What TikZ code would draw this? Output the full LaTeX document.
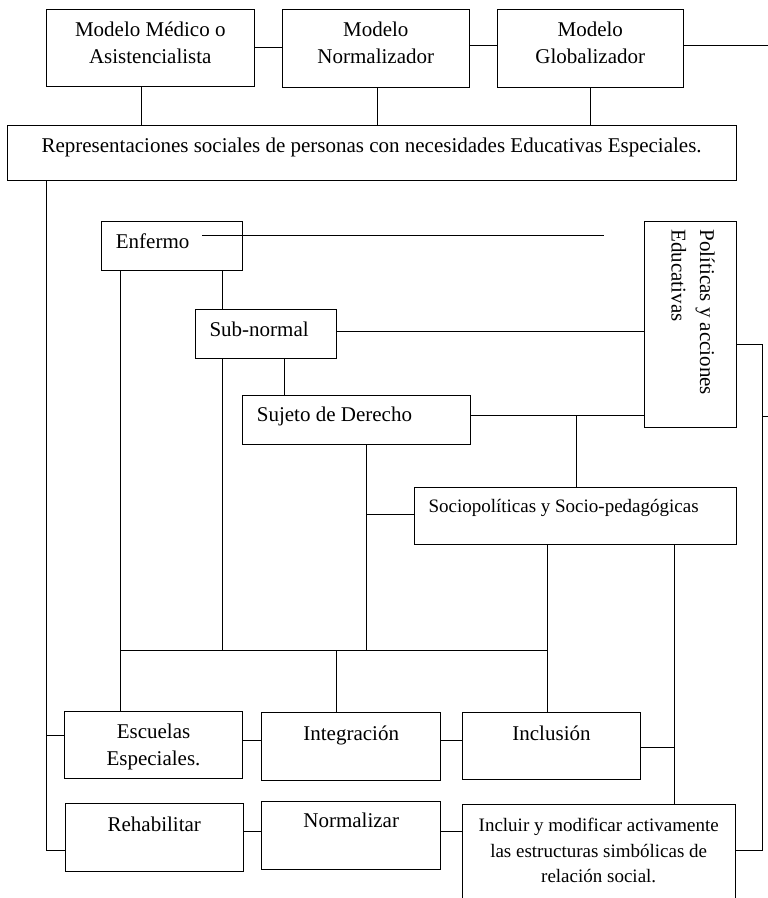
\documentclass[tikz,border=0pt]{standalone}
\usepackage{fontspec}
\setmainfont{Liberation Serif}
\begin{document}
\begin{tikzpicture}[x=1pt,y=-1pt,
  box/.style={draw=black,line width=1pt,inner sep=0pt,outer sep=0pt,anchor=north west},
  link/.style={draw=black,line width=1pt},
  txt/.style={inner sep=0pt,anchor=base,font=\fontsize{21}{27}\selectfont},
  txtl/.style={txt,anchor=base west},
  small/.style={inner sep=0pt,anchor=base,font=\fontsize{19}{24}\selectfont},
  vtxt/.style={txt,anchor=base west,rotate=-90}]
\useasboundingbox (0,0) rectangle (768,898);

% ---- boxes ----
\node[box,minimum width=207.3pt,minimum height=77.4pt] (b1) at (46.7,9.3) {};
\node[box,minimum width=186.3pt,minimum height=78pt] (b2) at (282.7,9.3) {};
\node[box,minimum width=186pt,minimum height=78pt] (b3) at (497.3,9.3) {};
\node[box,minimum width=728.7pt,minimum height=55pt] (rep) at (7.3,125.7) {};
\node[box,minimum width=141.7pt,minimum height=49pt] (enf) at (101,221.7) {};
\node[box,minimum width=92pt,minimum height=206pt] (pol) at (644,221.7) {};
\node[box,minimum width=141.7pt,minimum height=49pt] (sub) at (195,309.3) {};
\node[box,minimum width=228.4pt,minimum height=48.3pt] (suj) at (242.3,395.7) {};
\node[box,minimum width=322.7pt,minimum height=57pt] (soc) at (414,487.3) {};
\node[box,minimum width=178.4pt,minimum height=67.3pt] (esc) at (64.3,711) {};
\node[box,minimum width=179pt,minimum height=67.7pt] (int) at (261.7,712.3) {};
\node[box,minimum width=178.4pt,minimum height=67pt] (inc) at (462.3,712.3) {};
\node[box,minimum width=178pt,minimum height=67.3pt] (reh) at (65.3,803.7) {};
\node[box,minimum width=179pt,minimum height=67.3pt] (nor) at (261.7,801.7) {};
\node[box,minimum width=272.7pt,minimum height=112pt] (inm) at (462.3,804) {};

% ---- texts ----
\node[txt] (t1a) at (150.3,36) {Modelo Médico o};
\node[txt] (t1b) at (150.3,63.3) {Asistencialista};
\node[txt] (t2a) at (375.8,36) {Modelo};
\node[txt] (t2b) at (375.8,63.3) {Normalizador};
\node[txt] (t3a) at (590.3,36) {Modelo};
\node[txt] (t3b) at (590.3,63.3) {Globalizador};
\node[txt] (trep) at (371.6,152.7) {Representaciones sociales de personas con necesidades Educativas Especiales.};
\node[txtl] (tenf) at (115.7,248.3) {Enfermo};
\node[txtl] (tsub) at (209.3,336) {Sub-normal};
\node[txtl] (tsuj) at (256.7,421.7) {Sujeto de Derecho};
\node[small,anchor=base west] (tsoc) at (428.3,512.7) {Sociopolíticas y Socio-pedagógicas};
\node[vtxt] (tpola) at (700,229.3) {Políticas y acciones};
\node[vtxt] (tpolb) at (671.7,229.3) {Educativas};
\node[txt] (tesca) at (153.5,738.3) {Escuelas};
\node[txt] (tescb) at (153.5,765) {Especiales.};
\node[txt] (tint) at (351.2,740) {Integración};
\node[txt] (tinc) at (551.5,740) {Inclusión};
\node[txt] (treh) at (154.3,831) {Rehabilitar};
\node[txt] (tnor) at (351.2,827.3) {Normalizar};
\node[small] (tinma) at (598.7,831.7) {Incluir y modificar activamente};
\node[small] (tinmb) at (598.7,857) {las estructuras simbólicas de};
\node[small] (tinmc) at (598.7,882.5) {relación social.};

% ---- junction points ----
\coordinate (edgeA) at (768,45);
\coordinate (trunkE) at (46,735);
\coordinate (enfA) at (202.3,235.3);
\coordinate (enfB) at (604,235.3);
\coordinate (busL) at (120,650.7);
\coordinate (busR) at (547.7,650.7);
\coordinate (busS) at (222.3,650.7);
\coordinate (busD) at (366.7,650.7);
\coordinate (busI) at (336,650.7);
\coordinate (sujT) at (576,415.5);
\coordinate (socT) at (366.7,514.3);
\coordinate (incT) at (674,747.3);
\coordinate (rgtB) at (762.3,850);
\coordinate (rgtS) at (762.3,416);
\coordinate (edgeB) at (768,416);

% ---- connectors: top row ----
\draw[link] (b1.east |- 0,47.3) -- (b2.west |- 0,47.3);
\draw[link] (b2.east |- edgeA) -- (b3.west |- edgeA);
\draw[link] (b3.east |- edgeA) -- (edgeA);
\draw[link] (b1.south -| 141,0) -- (rep.north -| 141,0);
\draw[link] (b2.south -| 377.7,0) -- (rep.north -| 377.7,0);
\draw[link] (b3.south -| 590.7,0) -- (rep.north -| 590.7,0);

% ---- left trunk ----
\draw[link] (rep.south -| trunkE) |- (reh.west |- 0,850);
\draw[link] (trunkE) -- (esc.west |- trunkE);

% ---- representation chain ----
\draw[link] (enfA) -- (enfB);
\draw[link] (enf.south -| busL) -- (esc.north -| busL);
\draw[link] (enf.south -| busS) -- (sub.north -| busS);
\draw[link] (sub.south -| busS) -- (busS);
\draw[link] (sub.east |- 0,331.7) -- (pol.west |- 0,331.7);
\draw[link] (sub.south -| 284.3,0) -- (suj.north -| 284.3,0);
\draw[link] (suj.east |- sujT) -- (pol.west |- sujT);
\draw[link] (sujT) -- (soc.north -| sujT);
\draw[link] (suj.south -| busD) -- (busD);
\draw[link] (socT) -- (soc.west |- socT);
\draw[link] (busL) -- (busR);
\draw[link] (soc.south -| busR) -- (inc.north -| busR);
\draw[link] (busI) -- (int.north -| busI);
\draw[link] (soc.south -| incT) -- (inm.north -| incT);
\draw[link] (inc.east |- incT) -- (incT);

% ---- bottom rows ----
\draw[link] (esc.east |- 0,740.7) -- (int.west |- 0,740.7);
\draw[link] (int.east |- 0,740.7) -- (inc.west |- 0,740.7);
\draw[link] (reh.east |- 0,831.7) -- (nor.west |- 0,831.7);
\draw[link] (nor.east |- 0,831.7) -- (inm.west |- 0,831.7);

% ---- right side ----
\draw[link] (pol.east |- 0,344.3) -| (rgtB) -- (inm.east |- rgtB);
\draw[link] (rgtS) -- (edgeB);
\end{tikzpicture}
\end{document}
